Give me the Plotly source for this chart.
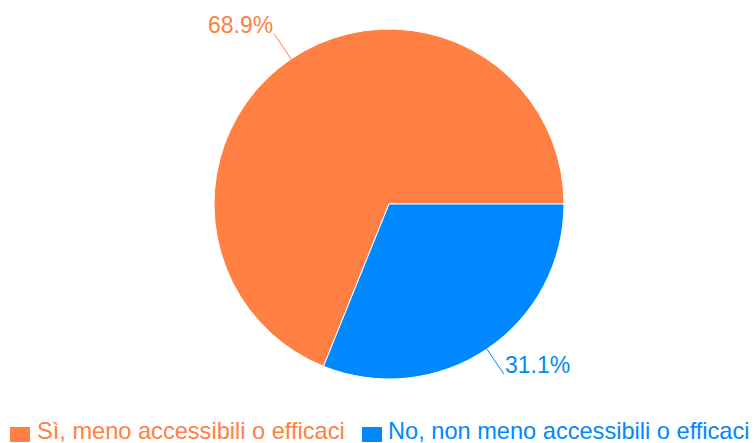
import math
import plotly.graph_objects as go

# Data
categories = ["Sì, meno accessibili o efficaci", "No, non meno accessibili o efficaci"]
values = [68.9, 31.1]
colors = ["#FF8042", "#0088FE"]

W, H = 755, 443
FONT = "Liberation Sans, Arial, Helvetica, sans-serif"

# Pie placement (pixels)
cx_px, cy_px, r_px = 389, 204, 175
dom_x = [(cx_px - r_px) / W, (cx_px + r_px) / W]
dom_y = [1 - (cy_px + r_px) / H, 1 - (cy_px - r_px) / H]

total = sum(values)
# first slice starts at 3 o'clock and runs counter-clockwise
# (plotly: with counterclockwise the first slice occupies [rotation, rotation + v0] clockwise from north)
rotation = 90 + 360 * (1 - values[0] / total)
if rotation > 180:
    rotation -= 360

fig = go.Figure(
    go.Pie(
        labels=categories,
        values=values,
        sort=False,
        direction="counterclockwise",
        rotation=rotation,
        marker=dict(colors=colors, line=dict(color="white", width=1)),
        textinfo="none",
        hoverinfo="label+percent",
        domain=dict(x=dom_x, y=dom_y),
        showlegend=False,
    )
)

# Outside labels with leader lines, positions derived from the values
cum = 0.0
annotations = []
shapes = []
leader = 30
label_size = 23
descent = 5
for cat, v, col in zip(categories, values, colors):
    mid = 2 * math.pi * (cum + v / 2) / total
    cum += v
    c, s = math.cos(mid), math.sin(mid)
    hx_px, hy_px = cx_px + r_px * c, cy_px - r_px * s
    tx_px, ty_px = cx_px + (r_px + leader) * c, cy_px - (r_px + leader) * s
    shapes.append(
        dict(type="line", xref="paper", yref="paper",
             x0=hx_px / W, y0=1 - hy_px / H, x1=tx_px / W, y1=1 - ty_px / H,
             line=dict(color=col, width=1))
    )
    annotations.append(
        dict(
            x=tx_px / W, y=1 - (ty_px + descent) / H, xref="paper", yref="paper",
            showarrow=False,
            text=f"{v / total * 100:.1f}%",
            font=dict(family=FONT, size=label_size, color=col),
            xanchor="right" if c < 0 else "left",
            yanchor="bottom",
            borderpad=0,
        )
    )

# Custom legend (coloured squares and coloured text)
leg_items = [(10, 36), (362, 387)]
for (sx, tx), cat, col in zip(leg_items, categories, colors):
    shapes.append(
        dict(type="rect", xref="paper", yref="paper",
             x0=sx / W, x1=(sx + 20) / W, y0=1 - 442 / H, y1=1 - 427 / H,
             fillcolor=col, line=dict(width=0))
    )
    annotations.append(
        dict(x=tx / W, y=1 - 431 / H, xref="paper", yref="paper",
             text=cat, showarrow=False, xanchor="left", yanchor="middle",
             font=dict(family=FONT, size=23.6, color=col), borderpad=0)
    )

fig.update_layout(
    width=W, height=H,
    margin=dict(l=0, r=0, t=0, b=0),
    paper_bgcolor="white",
    plot_bgcolor="white",
    annotations=annotations,
    shapes=shapes,
    font=dict(family=FONT),
)

fig.write_html(
    "out.html",
    config={"displayModeBar": False},
    post_script="document.body.style.margin='0';document.body.style.overflow='hidden';",
)
